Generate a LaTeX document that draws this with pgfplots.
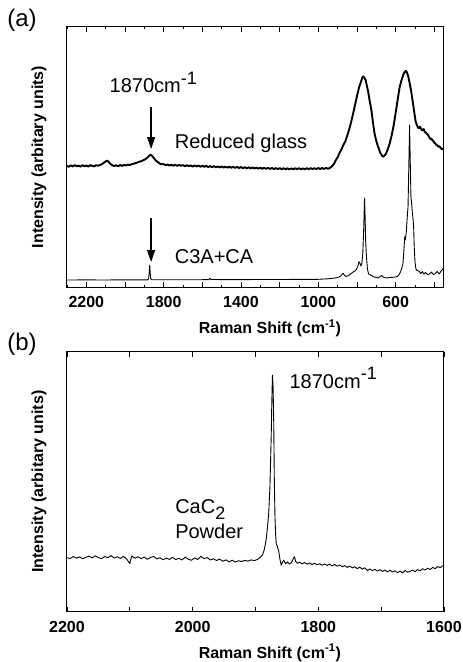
\documentclass[border=0pt]{standalone}
\usepackage{fontspec}
\setmainfont{Liberation Sans}
\usepackage{pgfplots}
\pgfplotsset{compat=1.18}
\usetikzlibrary{arrows.meta}
\pgfplotstableread{
x y
2300 121.0
2290 120.2
2280 121.6
2270 120.5
2260 121.9
2250 120.8
2240 121.4
2230 120.3
2220 121.8
2210 120.7
2200 121.5
2190 120.4
2180 121.9
2170 121.1
2160 120.6
2150 121.7
2140 121.3
2130 122.0
2120 122.8
2110 124.1
2100 125.6
2093 126.4
2085 125.2
2075 123.0
2065 121.6
2055 121.0
2045 121.8
2035 120.7
2025 122.0
2015 121.1
2005 122.1
1995 121.4
1985 122.5
1975 121.9
1965 122.9
1955 123.3
1945 124.0
1935 124.5
1925 125.4
1915 125.8
1905 126.8
1895 127.7
1885 129.3
1875 131.1
1868 132.3
1860 131.2
1850 128.8
1840 126.2
1830 124.9
1820 123.4
1810 122.7
1800 122.9
1790 121.7
1780 122.6
1770 121.5
1760 122.4
1750 121.3
1740 122.2
1730 121.1
1720 122.1
1710 121.2
1700 121.9
1690 120.7
1680 121.8
1670 120.9
1660 121.6
1650 120.5
1640 121.5
1630 120.6
1620 121.4
1610 120.3
1600 121.2
1590 120.2
1580 121.1
1570 120.0
1560 120.9
1550 119.9
1540 120.8
1530 119.7
1520 120.6
1510 119.6
1500 120.5
1490 119.5
1480 120.3
1470 119.4
1460 120.4
1450 119.3
1440 120.2
1430 119.1
1420 120.1
1410 119.0
1400 119.9
1390 118.9
1380 119.8
1370 118.7
1360 119.7
1350 118.6
1340 119.5
1330 118.5
1320 119.4
1310 118.4
1300 119.3
1290 118.3
1280 119.2
1270 118.2
1260 119.1
1250 118.1
1240 119.0
1230 118.0
1220 118.9
1210 117.9
1200 118.9
1190 117.8
1180 118.8
1170 117.8
1160 118.7
1150 117.7
1140 118.6
1130 117.8
1120 118.7
1110 117.9
1100 118.8
1090 117.8
1080 118.6
1070 117.7
1060 118.7
1050 117.8
1040 118.9
1030 117.9
1020 118.8
1010 117.9
1000 118.9
990 118.0
980 119.0
970 118.1
960 119.1
950 118.3
941 119.0
930 120.6
920 122.9
910 126.7
900 129.8
890 134.2
880 137.8
870 142.3
860 145.8
850 151.7
840 157.8
830 165.2
820 173.5
810 182.2
800 190.8
790 199.2
780 204.8
773 209.2
768 210.6
762 209.3
755 206.7
748 200.3
743 196.2
735 186.8
725 176.2
717 163.8
710 154.3
700 145.8
691 140.5
680 134.3
670 131.2
666 130.3
660 130.9
650 133.3
640 138.2
631 143.5
620 152.2
610 161.8
600 174.2
590 186.8
580 199.2
570 206.8
560 212.7
553 215.1
547 216.2
541 214.3
535 210.7
528 204.3
520 196.2
512 185.8
505 176.2
497 165.8
490 161.7
485 159.6
480 158.8
475 160.2
470 158.7
465 157.1
460 156.8
455 158.0
450 155.2
445 154.6
440 153.3
435 152.8
430 151.2
425 149.3
420 147.8
415 148.4
410 146.7
405 145.9
400 144.3
395 143.6
390 142.2
385 141.8
380 140.3
375 141.0
370 139.7
365 138.6
360 137.8
356 138.3
352 137.0
}\glass
\pgfplotstableread{
x y
2300 7.0
2200 7.1
2100 7.0
2000 7.2
1900 7.1
1885 7.1
1878 8.0
1875 14.0
1872 22.0
1870 15.0
1867 8.5
1862 7.3
1800 7.2
1700 7.3
1600 7.3
1566 7.4
1561 8.8
1556 7.6
1500 7.4
1400 7.4
1300 7.5
1200 7.5
1100 7.6
1000 7.7
950 8.2
920 8.8
900 9.5
885 10.8
878 12.5
872 13.8
866 12.0
858 10.5
850 11.0
840 12.0
830 13.5
820 15.0
810 16.0
803 17.5
795 21.0
790 25.3
785 24.0
780 21.0
775 23.0
770 33.7
765 60.0
761 88.7
758 70.0
755 45.0
751 30.0
746 18.0
740 13.0
730 12.0
720 11.0
710 10.0
700 9.5
690 9.0
680 10.5
672 11.5
665 10.0
650 9.0
630 9.5
610 9.8
595 10.3
585 11.5
575 15.0
568 19.0
562 23.7
557 38.0
553 50.3
550 47.0
545 55.0
540 70.0
536 80.3
532 120.0
528 162.0
525 130.0
521 90.0
518 85.0
514 75.0
510 68.0
507 60.0
504 40.0
500 25.0
495 18.0
490 16.5
480 16.0
470 13.5
462 15.5
455 13.0
445 14.5
435 12.5
425 13.0
415 15.0
405 12.5
395 13.5
385 15.5
375 13.0
365 16.0
355 18.0
352 20.0
}\cthree
\pgfplotstableread{
x y
2200 54.0
2195 53.2
2190 55.1
2185 53.6
2180 54.8
2175 52.9
2170 54.4
2165 55.6
2160 53.8
2155 55.9
2150 54.1
2145 53.0
2140 55.2
2135 54.0
2130 56.1
2125 53.7
2120 54.9
2115 53.3
2110 55.4
2105 52.6
2100 48.2
2097 55.8
2092 53.5
2087 55.0
2082 53.1
2077 54.7
2072 52.4
2067 54.2
2062 55.3
2057 52.8
2052 54.0
2047 51.9
2042 53.6
2037 52.3
2032 54.4
2027 52.0
2022 53.5
2017 51.7
2012 54.6
2007 52.5
2002 51.4
1997 53.8
1992 52.2
1987 55.4
1982 53.0
1977 54.1
1972 51.8
1967 52.9
1962 51.2
1957 52.6
1952 50.4
1947 51.9
1942 49.8
1937 51.5
1932 49.6
1927 51.0
1922 50.2
1917 51.3
1912 50.5
1907 51.8
1902 51.0
1897 52.3
1893 54.0
1889 56.5
1886 62.0
1883 72.0
1881 84.0
1879 98.0
1877 125.0
1875 175.0
1874 210.0
1873 236.7
1872 225.0
1871 190.0
1870 130.0
1869 95.0
1868 78.0
1867 68.0
1865 65.0
1863 60.5
1861 52.0
1859 46.5
1857 49.5
1855 51.5
1852 48.0
1849 49.8
1846 47.6
1843 49.0
1840 52.8
1838 55.0
1836 50.2
1833 48.5
1830 49.6
1826 47.8
1822 49.2
1818 47.5
1814 48.8
1810 47.1
1806 48.4
1802 46.9
1798 48.0
1794 46.5
1790 47.7
1786 46.3
1782 47.6
1778 45.8
1774 47.2
1770 45.5
1766 46.8
1762 44.9
1758 46.1
1754 44.3
1750 45.6
1746 43.8
1742 45.0
1738 43.1
1734 44.6
1730 42.5
1726 43.9
1722 41.2
1718 42.8
1714 41.0
1710 42.4
1706 40.6
1702 42.0
1698 40.3
1694 41.7
1690 39.8
1686 41.5
1682 39.6
1678 41.0
1674 39.0
1670 40.6
1666 38.8
1662 41.3
1658 39.5
1654 40.2
1650 41.8
1646 40.0
1642 42.1
1638 40.8
1634 43.0
1630 41.6
1626 43.5
1622 42.2
1618 44.3
1614 43.0
1610 45.2
1606 44.0
1602 46.0
1600 45.0
}\cacpowder
\pgfplotsset{
  ramanaxis/.style={
    scale only axis, width=377pt, height=260pt,
    x dir=reverse, ymin=0, ymax=260, ytick=\empty,
    axis line style={line width=1pt},
    tick align=inside,
    major tick length=5pt, minor tick length=2.5pt,
    every tick/.style={black, line width=0.8pt},
    /pgf/number format/assume math mode=true,
    /pgf/number format/1000 sep={},
    ticklabel style={font=\bfseries\fontsize{16}{16}\selectfont},
    xticklabel style={yshift=-6pt},
    xlabel={Raman Shift (cm\textsuperscript{-1})},
    ylabel={Intensity (arbitary units)},
    label style={font=\bfseries\fontsize{16}{16}\selectfont},
    xlabel style={at={(axis description cs:0.538,0)}, anchor=center, yshift=-41pt},
    ylabel style={at={(axis description cs:-0.045,0.5)}, anchor=south},
  }
}
\begin{document}
\begin{tikzpicture}[x=1pt,y=1pt]
\useasboundingbox (-67,-375) rectangle (396,287);
\node[font=\fontsize{24}{24}\selectfont] at (-45,267) {(a)};
\node[font=\fontsize{24}{24}\selectfont] at (-45,-57) {(b)};
\begin{axis}[ramanaxis, at={(0,0)}, anchor=south west,
  xmin=350, xmax=2300,
  xtick={2200,2000,1800,1600,1400,1200,1000,800,600,400},
  xticklabels={2200,,1800,,1400,,1000,,600,},
  minor xtick={2300,2100,1900,1700,1500,1300,1100,900,700,500},
]
\addplot[black, line width=1.9pt, line join=round] table[x=x,y=y] {\glass};
\addplot[black, line width=0.9pt, line join=round] table[x=x,y=y] {\cthree};
\node[anchor=base west, inner sep=0pt, font=\fontsize{20}{20}\selectfont] at (axis cs:2080,194) {1870cm\raisebox{0.45em}{\fontsize{18}{18}\selectfont -1}};
\node[anchor=base west, inner sep=0pt, font=\fontsize{20}{20}\selectfont] at (axis cs:1743,138.7) {Reduced glass};
\node[anchor=base west, inner sep=0pt, font=\fontsize{20}{20}\selectfont] at (axis cs:1743,23.7) {C3A+CA};
\draw[-{Triangle[length=12pt,width=8pt]}, line width=1.2pt] (axis cs:1865,180) -- (axis cs:1865,138);
\draw[-{Triangle[length=12pt,width=8pt]}, line width=1.2pt] (axis cs:1865,69) -- (axis cs:1865,25);
\end{axis}
\begin{axis}[ramanaxis, at={(0,-324.7)}, anchor=south west,
  xmin=1600, xmax=2200,
  xtick={1600,1800,2000,2200},
  minor xtick={1700,1900,2100},
  minor tick length=5pt,
]
\addplot[black, line width=0.9pt, line join=round] table[x=x,y=y] {\cacpowder};
\node[anchor=base west, inner sep=0pt, font=\fontsize{20}{20}\selectfont] at (axis cs:1846,223.4) {1870cm\raisebox{0.45em}{\fontsize{18}{18}\selectfont -1}};
\node[anchor=base west, inner sep=0pt, font=\fontsize{20}{20}\selectfont] at (axis cs:2028,98.4) {CaC\raisebox{-0.3em}{\fontsize{18}{18}\selectfont 2}};
\node[anchor=base west, inner sep=0pt, font=\fontsize{20}{20}\selectfont] at (axis cs:2028,73.4) {Powder};
\end{axis}
\end{tikzpicture}
\end{document}
